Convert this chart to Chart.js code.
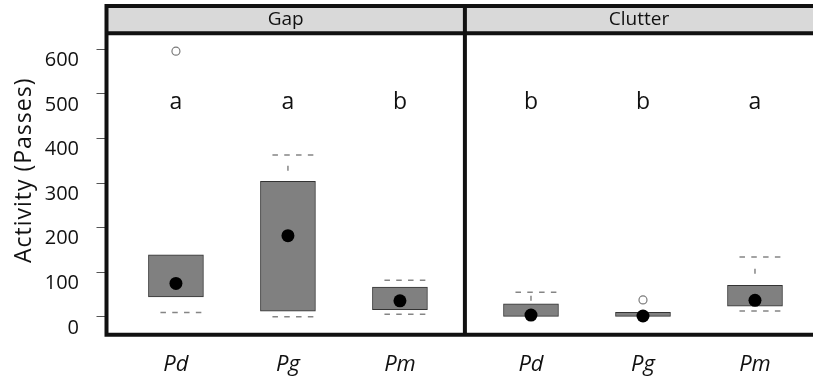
<!DOCTYPE html>
<html>
<head>
<meta charset="utf-8">
<script src="https://cdn.jsdelivr.net/npm/chart.js@4"></script>
<style>
html, body { margin: 0; padding: 0; background: #fff; }
</style>
</head>
<body>
<canvas id="chart" width="813" height="379"></canvas>
<script>
// panels and categories
const panels = ['Gap', 'Clutter'];
const species = ['Pd', 'Pg', 'Pm'];
const panelShift = [0, 3.17];
const yTicks = [0, 100, 200, 300, 400, 500, 600];

// box stats, one row per panel, columns Pd, Pg, Pm
const lowWhisker = [[10, 0, 6], [1, 1, 13]];
const q1 = [[45, 13, 16], [1, 1, 24]];
const median = [[75, 182, 36], [4, 2, 37]];
const q3 = [[139, 304, 67], [29, 10, 71]];
const highWhisker = [[139, 363, 82], [55, 10, 134]];
const outliers = [[[596], [], []], [[], [38], []]];
const letters = [['a', 'a', 'b'], ['b', 'b', 'a']];
const letterY = 467;

const xPos = [], xNames = [], boxData = [], medData = [], outData = [];
panels.forEach(function(p, pi) {
	species.forEach(function(s, i) {
		const x = i + 1 + panelShift[pi];
		xPos.push(x);
		xNames.push(s);
		boxData.push({ x: x, y: [q1[pi][i], q3[pi][i]] });
		medData.push({ x: x, y: median[pi][i] });
		outliers[pi][i].forEach(function(v) { outData.push({ x: x, y: v }); });
	});
});

const FONT = "'Open Sans', 'Noto Sans', sans-serif";

const panelPlugin = {
	id: 'panels',
	beforeDatasetsDraw(chart) {
		const c = chart.ctx, xs = chart.scales.x, ys = chart.scales.y;
		c.save();
		c.strokeStyle = '#858585';
		c.lineWidth = 1.5;
		panels.forEach(function(p, pi) {
			species.forEach(function(s, i) {
				const cx = xs.getPixelForValue(i + 1 + panelShift[pi]);
				const hi = highWhisker[pi][i], lo = lowWhisker[pi][i];
				if (hi !== q3[pi][i]) {
					const yw = ys.getPixelForValue(hi), yb = ys.getPixelForValue(q3[pi][i]);
					c.setLineDash([5.5, 6.3]);
					c.beginPath(); c.moveTo(cx - 15.5, yw); c.lineTo(cx + 25.5, yw); c.stroke();
					c.setLineDash([]);
					if (yb - yw > 10) {
						const mid = (yw + yb) / 2;
						c.beginPath(); c.moveTo(cx, mid - 2.5); c.lineTo(cx, mid + 2.5); c.stroke();
					}
				}
				if (lo !== q1[pi][i]) {
					const yw = ys.getPixelForValue(lo);
					c.setLineDash([5.5, 6.3]);
					c.beginPath(); c.moveTo(cx - 15.5, yw); c.lineTo(cx + 25.5, yw); c.stroke();
					c.setLineDash([]);
				}
			});
		});
		c.restore();
	},
	afterDraw(chart) {
		const c = chart.ctx, xs = chart.scales.x, ys = chart.scales.y, a = chart.chartArea;
		const divider = xs.getPixelForValue(3.58);
		const right = chart.width;
		const stripTop = 6;
		c.save();
		// letters
		c.fillStyle = '#111';
		c.font = '23px ' + FONT;
		c.textAlign = 'center';
		c.textBaseline = 'alphabetic';
		panels.forEach(function(p, pi) {
			species.forEach(function(s, i) {
				c.fillText(letters[pi][i], xs.getPixelForValue(i + 1 + panelShift[pi]), ys.getPixelForValue(letterY));
			});
		});
		// strips
		c.fillStyle = '#d9d9d9';
		c.fillRect(a.left, stripTop, right - a.left, a.top - stripTop);
		c.fillStyle = '#111';
		c.font = '19px ' + FONT;
		c.textBaseline = 'middle';
		c.fillText(panels[0], (a.left + divider) / 2, (stripTop + a.top) / 2);
		c.fillText(panels[1], (divider + right) / 2, (stripTop + a.top) / 2);
		// frame
		c.strokeStyle = '#111';
		c.lineWidth = 4;
		c.beginPath();
		c.moveTo(a.left, stripTop - 2); c.lineTo(a.left, a.bottom + 2);
		c.moveTo(divider, stripTop - 2); c.lineTo(divider, a.bottom + 2);
		c.moveTo(a.left - 2, stripTop); c.lineTo(right, stripTop);
		c.moveTo(a.left - 2, a.top); c.lineTo(right, a.top);
		c.moveTo(a.left - 2, a.bottom); c.lineTo(right, a.bottom);
		c.stroke();
		// y title
		c.translate(24, (stripTop + a.bottom) / 2);
		c.rotate(-Math.PI / 2);
		c.font = '23px ' + FONT;
		c.letterSpacing = '1px';
		c.fillText('Activity (Passes)', 0, 0);
		c.restore();
	}
};

const ctx = document.getElementById('chart');
const chart = new Chart(ctx, {
	type: 'bar',
	data: {
		datasets: [{
			type: 'bar',
			data: boxData,
			backgroundColor: '#808080',
			borderColor: '#333',
			borderWidth: 1,
			borderSkipped: false,
			barThickness: 55,
			order: 3
		}, {
			type: 'scatter',
			data: outData,
			pointRadius: 4,
			backgroundColor: 'rgba(0,0,0,0)',
			borderColor: '#7a7a7a',
			borderWidth: 1.2,
			order: 2
		}, {
			type: 'scatter',
			data: medData,
			pointRadius: 6.5,
			backgroundColor: '#000',
			borderColor: '#000',
			borderWidth: 0,
			order: 1
		}]
	},
	options: {
		responsive: false,
		animation: false,
		layout: { autoPadding: false, padding: { top: 33.3, left: 0, right: 0, bottom: 0 } },
		plugins: { legend: { display: false }, tooltip: { enabled: false } },
		scales: {
			x: {
				type: 'linear',
				min: 0.38,
				max: 6.688,
				offset: false,
				grid: { display: false, drawTicks: false, offset: false },
				border: { display: false },
				afterBuildTicks: function(s) { s.ticks = xPos.map(function(v) { return { value: v }; }); },
				afterFit: function(s) { s.height = 44.3; s.paddingLeft = 0; s.paddingRight = 0; },
				ticks: {
					autoSkip: false,
					maxRotation: 0,
					padding: 17,
					color: '#111',
					font: { family: FONT, size: 22, style: 'italic' },
					callback: function(v, i) { return xNames[i]; }
				}
			},
			y: {
				min: -40,
				max: 636,
				grid: { drawOnChartArea: false, tickLength: 10, color: '#555', tickWidth: 1 },
				border: { display: false },
				afterBuildTicks: function(s) { s.ticks = yTicks.map(function(v) { return { value: v }; }); },
				afterFit: function(s) { s.width = 106.5; },
				ticks: {
					padding: 17.5,
					labelOffset: 11,
					color: '#111',
					font: { family: FONT, size: 20 }
				}
			}
		}
	},
	plugins: [panelPlugin]
});
</script>
</body>
</html>
